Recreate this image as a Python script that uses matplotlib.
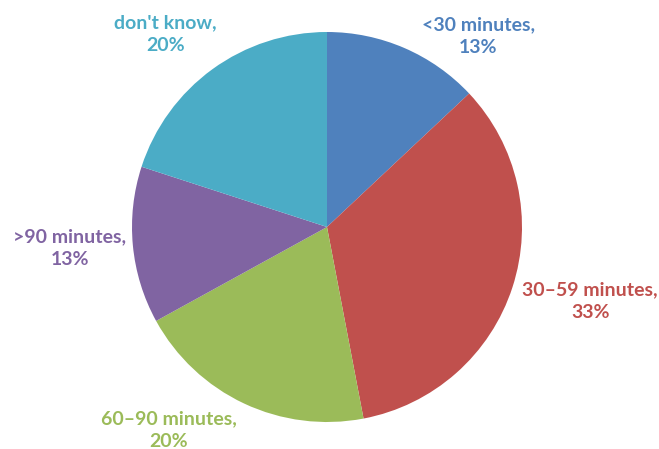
import matplotlib
matplotlib.use('agg')
import matplotlib.pyplot as plt

# travel time answers (share of respondents, %), angles
categories = ["<30 minutes", "30\u201359 minutes", "60\u201390 minutes", ">90 minutes", "don't know"]
shares = [13, 34, 20, 13, 20]
pct_labels = ["13%", "33%", "20%", "13%", "20%"]
colors = ["#4F81BD", "#C0504D", "#9BBB59", "#8064A2", "#4BACC6"]

# label centres, in radii from the pie centre
label_pos = [(0.775, 0.98), (1.35, -0.38), (-0.81, -1.04), (-1.32, -0.11), (-0.83, 0.99)]

W, H = 659, 449
cx, cy, r = 327, 227, 195

fig = plt.figure(figsize=(W / 100, H / 100), dpi=100)
ax = fig.add_axes([0, 0, 1, 1])
ax.pie(shares, colors=colors, startangle=90, counterclock=False, radius=1,
       wedgeprops=dict(linewidth=0))
ax.set_xlim(-cx / r, (W - cx) / r)
ax.set_ylim(-(H - cy) / r, cy / r)
ax.set_aspect('auto')
ax.axis('off')

for cat, p, c, (x, y) in zip(categories, pct_labels, colors, label_pos):
    ax.text(x, y, cat + ",\n" + p, color=c, ha='center', va='center',
            fontsize=14, fontweight='bold', family=['Lato', 'DejaVu Sans'],
            linespacing=1.4)

plt.savefig('out.png', dpi=100)
